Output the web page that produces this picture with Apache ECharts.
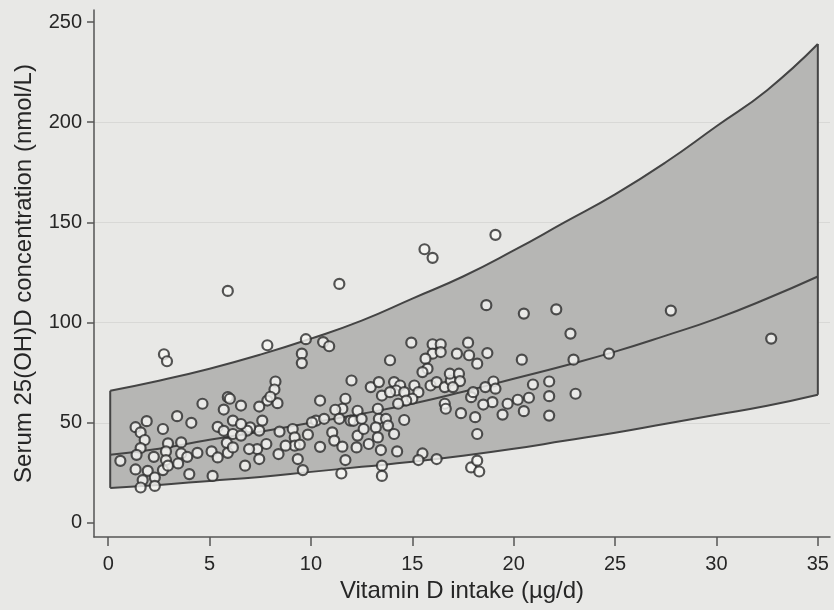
<!DOCTYPE html>
<html>
<head>
<meta charset="utf-8">
<script src="https://cdn.jsdelivr.net/npm/echarts@6/dist/echarts.min.js"></script>
<style>
  html, body { margin: 0; padding: 0; background: #e8e8e6; }
  #chart { width: 834px; height: 610px; }
</style>
</head>
<body>
<div id="chart"></div>
<script>
// Observed intake (µg/d) and serum 25(OH)D (nmol/L), one entry per subject
const intake = [
  0.6, 1.35, 1.6, 1.8, 1.9, 1.6, 1.4, 1.35, 1.95, 1.7, 1.6, 2.3, 2.3, 2.25, 2.7, 2.95, 2.85, 2.85, 2.7, 2.95,
  3.45, 3.6, 3.6, 3.9, 4.4, 3.4, 4.1, 4.65, 4.0, 5.15, 5.1, 5.4, 5.4, 5.7, 5.7, 5.9, 5.85, 5.9, 2.75, 2.9, 5.9,
  7.85, 9.75, 10.6, 10.9, 9.55, 9.55, 8.25, 8.2, 7.85, 7.45, 8.35, 8.0, 6.55, 6.0, 10.45, 12.0, 11.7, 11.55, 11.2, 11.4,
  11.95, 10.25, 10.65, 10.05, 9.85, 9.1, 9.2, 9.2, 9.45, 8.75, 8.45, 8.4, 9.35, 9.6, 10.45, 11.05, 11.15, 11.55, 11.7, 11.5,
  7.6, 7.45, 7.35, 7.45, 7.8, 7.0, 6.75, 6.85, 6.95, 6.15, 6.55, 6.15, 6.55, 6.15, 11.4,
  14.95, 16.0, 16.4, 16.0, 16.4, 15.65, 15.75, 15.5, 13.9, 17.75, 17.2, 17.8, 18.2, 12.95, 13.35, 13.5, 14.1, 14.4, 14.2, 13.9,
  14.6, 15.1, 15.3, 15.0, 14.7, 14.3, 15.9, 16.2, 16.6, 16.9, 16.85, 17.3, 17.35, 17.0, 16.6, 16.65, 17.4, 17.9, 18.0, 18.1,
  18.2, 14.6, 12.3, 12.1, 12.5, 13.3, 13.35, 13.7, 13.2, 13.8, 14.1, 13.3, 12.85, 12.3, 12.25, 12.6, 13.45, 14.25, 15.5, 15.3,
  16.2, 13.5, 13.5, 17.9, 18.2, 15.6, 16.0,
  18.65, 20.5, 22.1, 22.8, 22.95, 20.4, 18.7, 19.0, 19.1, 18.6, 20.95, 20.75, 20.2, 19.7, 19.45, 20.5, 18.95, 18.5, 21.75, 21.75,
  21.75, 23.05, 18.3, 19.1, 24.7, 27.75, 32.7
];
const serum = [
  31, 47.8, 45.2, 41.4, 50.8, 37.4, 34, 26.7, 26, 21.4, 17.7, 22.7, 18.5, 33, 46.9, 39.7, 35.7, 31.4, 26.4, 28.6,
  29.7, 40.2, 34.7, 33, 35, 53.3, 50, 59.5, 24.4, 23.5, 35.7, 32.7, 48, 46, 56.6, 62.8, 40, 35, 84.2, 80.7, 115.8,
  88.7, 91.7, 90.3, 88.2, 84.5, 79.8, 70.6, 66.6, 61.1, 58.1, 59.8, 63, 58.6, 62, 61.1, 71.1, 62, 57, 56.5, 52,
  51.1, 51.1, 52, 50.2, 44.1, 46.9, 42.7, 38.6, 39.1, 38.6, 45.6, 34.4, 31.9, 26.4, 38, 45.2, 41.1, 38.1, 31.4, 24.7,
  51.1, 46.1, 36.9, 31.9, 39.4, 47.7, 28.6, 46.1, 36.9, 51.1, 49.4, 44.4, 43.6, 37.7, 119.3,
  90, 89.2, 89.2, 84.5, 85.3, 82, 77, 75.3, 81.2, 90, 84.5, 83.7, 79.5, 67.8, 70.3, 63.6, 70.3, 68.6, 66.1, 65.3,
  65.3, 68.6, 65.3, 62, 61.1, 59.5, 68.6, 70.3, 67.8, 71.1, 74.5, 74.5, 70.8, 67.8, 59.5, 57, 54.8, 62.8, 65.3, 52.8,
  44.4, 51.4, 56, 51, 52, 57, 52, 52, 47.7, 48.6, 44.4, 42.7, 39.4, 43.6, 37.7, 46.9, 36.4, 35.7, 34.7, 31.4,
  31.9, 28.6, 23.5, 27.7, 31.1, 136.6, 132.3,
  108.7, 104.5, 106.6, 94.5, 81.5, 81.5, 84.8, 70.6, 67, 67.8, 69.1, 62.5, 61.5, 59.5, 54.1, 55.8, 60.3, 59.1, 70.6, 63.3,
  53.6, 64.5, 25.7, 143.8, 84.5, 106, 92
];

// Fitted curve and prediction band, sampled along intake
const curveX   = [0.1, 2.5, 5, 7.5, 10, 12.5, 15, 17.5, 20, 22.5, 25, 27.5, 30, 32.5, 35];
const fitLower = [17.5, 19, 21, 23, 25.5, 28, 30.5, 33.5, 37, 41, 45, 49.5, 54, 58.5, 64];
const fitMid   = [34, 37, 41.5, 45.5, 50, 54.5, 59.5, 65.5, 72, 78.5, 85.5, 93.5, 102, 112, 123];
const fitUpper = [66, 71, 77, 84, 92, 101, 112, 123, 136, 150, 164, 180, 198, 216, 239];

// Axis tick labels
const xTicks = [0, 5, 10, 15, 20, 25, 30, 35];
const yTicks = [0, 50, 100, 150, 200, 250];

const pts = (xs, ys) => xs.map((x, i) => [x, ys[i]]);
const font = "'Liberation Sans', Arial, sans-serif";
const ink = '#262626';
const axisColor = '#555555';
const curveStyle = { color: '#444444', width: 2 };
const last = curveX.length - 1;

const chart = echarts.init(document.getElementById('chart'), null, { renderer: 'canvas' });
chart.setOption({
  animation: false,
  backgroundColor: '#e8e8e6',
  textStyle: { fontFamily: font },
  grid: { left: 94, right: 4, top: 10, bottom: 73, containLabel: false, outerBoundsMode: 'none' },
  xAxis: {
    type: 'value', min: -0.7, max: 35.6,
    name: 'Vitamin D intake (µg/d)', nameLocation: 'middle', nameGap: 40,
    nameTextStyle: { fontSize: 24, color: ink, fontFamily: font },
    axisLine: { show: true, onZero: false, lineStyle: { color: axisColor, width: 1.5 } },
    axisTick: { show: true, customValues: xTicks, length: 9, lineStyle: { color: axisColor, width: 1.5 } },
    axisLabel: { customValues: xTicks, fontSize: 20, color: ink, margin: 17, fontFamily: font },
    splitLine: { show: false }
  },
  yAxis: {
    type: 'value', min: -7, max: 256,
    name: 'Serum 25(OH)D concentration (nmol/L)', nameLocation: 'middle', nameGap: 58,
    nameTextStyle: { fontSize: 24, color: ink, fontFamily: font },
    axisLine: { show: true, onZero: false, lineStyle: { color: axisColor, width: 1.5 } },
    axisTick: { show: true, customValues: yTicks, length: 7, lineStyle: { color: axisColor, width: 1.5 } },
    axisLabel: { customValues: yTicks, fontSize: 20, color: ink, margin: 12, fontFamily: font },
    splitLine: { show: true, showMinLine: false, showMaxLine: false, lineStyle: { color: '#d8d8d6', width: 1 } }
  },
  series: [
    {
      // shaded prediction band
      type: 'custom', coordinateSystem: 'cartesian2d', silent: true, z: 1,
      data: [[curveX[0], fitLower[0]]],
      renderItem: (params, api) => {
        const poly = [];
        curveX.forEach((x, i) => poly.push(api.coord([x, fitUpper[i]])));
        for (let i = last; i >= 0; i--) poly.push(api.coord([curveX[i], fitLower[i]]));
        return { type: 'polygon', shape: { points: poly }, style: { fill: '#b6b6b4', stroke: null } };
      }
    },
    { type: 'line', data: pts(curveX, fitUpper), smooth: true, showSymbol: false, silent: true, z: 2, lineStyle: curveStyle },
    { type: 'line', data: pts(curveX, fitLower), smooth: true, showSymbol: false, silent: true, z: 2, lineStyle: curveStyle },
    { type: 'line', data: pts(curveX, fitMid), smooth: true, showSymbol: false, silent: true, z: 2, lineStyle: curveStyle },
    { type: 'line', data: [[curveX[0], fitLower[0]], [curveX[0], fitUpper[0]]], showSymbol: false, silent: true, z: 2, lineStyle: curveStyle },
    { type: 'line', data: [[curveX[last], fitLower[last]], [curveX[last], fitUpper[last]]], showSymbol: false, silent: true, z: 2, lineStyle: curveStyle },
    {
      type: 'scatter', data: pts(intake, serum), silent: true, z: 5,
      symbol: 'circle', symbolSize: 10,
      itemStyle: { color: '#f6f6f4', borderColor: '#2c2c2c', borderWidth: 2.2 }
    }
  ]
});
</script>
</body>
</html>
